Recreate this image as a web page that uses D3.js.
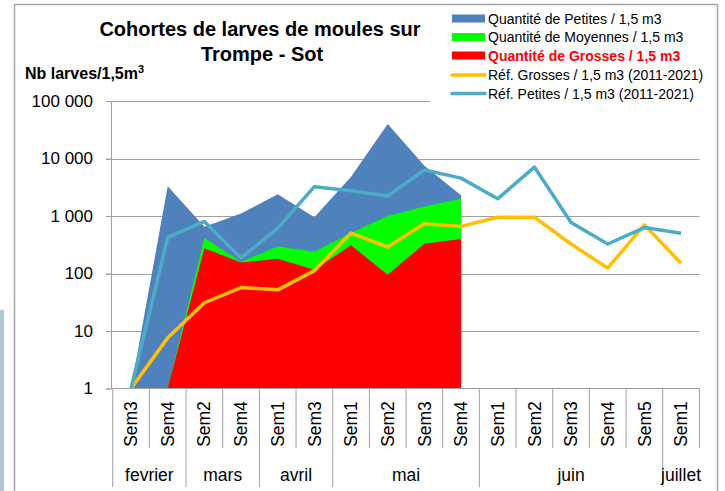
<!DOCTYPE html>
<html><head><meta charset="utf-8">
<script src="https://cdn.jsdelivr.net/npm/d3@7"></script>
<style>html,body{margin:0;padding:0;background:#fff;}svg{display:block;font-family:"Liberation Sans",Arial,sans-serif;}</style>
</head><body>
<script>
const categories = ["Sem3","Sem4","Sem2","Sem4","Sem1","Sem3","Sem1","Sem2","Sem3","Sem4","Sem1","Sem2","Sem3","Sem4","Sem5","Sem1"];
const monthNames = ["fevrier","mars","avril","mai","juin","juillet"];
const monthSpans = [2,2,2,4,5,1];
const petites   = [1, 3300, 650, 1100, 2400, 950, 4800, 40000, 7500, 2300];
const moyennes  = [null, 1, 415, 160, 295, 239, 505, 1000, 1460, 2000];
const grosses   = [null, 1, 276, 155, 181, 116, 309, 95, 329, 400];
const refGrosses = [1, 7.6, 31, 57, 52, 112, 505, 289, 732, 660, 950, 950, 326, 124, 700, 151];
const refPetites = [1, 424, 803, 186, 617, 3240, 2760, 2230, 6320, 4560, 1990, 7100, 770, 326, 630, 500];
const yTicks = [1, 10, 100, 1000, 10000, 100000];
const yTickLabels = ["1","10","100","1 000","10 000","100 000"];
const legendLabels = ["Quantité de Petites / 1,5 m3","Quantité de Moyennes / 1,5 m3","Quantité de Grosses / 1,5 m3","Réf. Grosses / 1,5 m3 (2011-2021)","Réf. Petites / 1,5 m3 (2011-2021)"];

const W = 725, H = 491;
const colors = {pet:"#4F81BD", moy:"#00FF00", gro:"#FF0000", rg:"#FFC000", rp:"#4BACC6"};
const svg = d3.select("body").append("svg").attr("width", W).attr("height", H);

// frame
svg.append("rect").attr("x",0).attr("y",310).attr("width",4).attr("height",181).attr("fill","#b3c7d3");
svg.append("line").attr("x1",14.5).attr("x2",14.5).attr("y1",4.5).attr("y2",H).attr("stroke","#a6a6a6").attr("stroke-width",1.5);
svg.append("line").attr("x1",717.5).attr("x2",717.5).attr("y1",4.5).attr("y2",H).attr("stroke","#a6a6a6").attr("stroke-width",1.5);
svg.append("line").attr("x1",14).attr("x2",718).attr("y1",4.5).attr("y2",4.5).attr("stroke","#a6a6a6").attr("stroke-width",1.5);

const x0 = 112.7, x1 = 699.4;
const x = d3.scaleBand().domain(d3.range(categories.length)).range([x0, x1]);
const y = d3.scaleLog().domain([1, 100000]).range([388.5, 101]);
const cx = i => x(i) + x.bandwidth()/2;

// gridlines
svg.append("g").selectAll("line").data(yTicks.slice(1)).join("line")
  .attr("x1", 106).attr("x2", x1).attr("y1", d => Math.round(y(d))+0.5).attr("y2", d => Math.round(y(d))+0.5)
  .attr("stroke","#a0a0a0").attr("stroke-width",1);

// areas
function areaGen(){ return d3.area().defined(d => d != null).x((d,i) => cx(i)).y0(y(1)).y1(d => y(d)); }
svg.append("path").datum(petites).attr("d", areaGen()).attr("fill", colors.pet);
svg.append("path").datum(moyennes).attr("d", areaGen()).attr("fill", colors.moy);
svg.append("path").datum(grosses).attr("d", areaGen()).attr("fill", colors.gro);

// lines
const lineGen = d3.line().x((d,i) => cx(i)).y(d => y(d));
svg.append("path").datum(refGrosses).attr("d", lineGen).attr("fill","none").attr("stroke", colors.rg).attr("stroke-width",3.5).attr("stroke-linejoin","round");
svg.append("path").datum(refPetites).attr("d", lineGen).attr("fill","none").attr("stroke", colors.rp).attr("stroke-width",3.5).attr("stroke-linejoin","round");

// y axis
const yAxis = d3.axisLeft(y).tickValues(yTicks).tickFormat((d,i) => yTickLabels[i]).tickSize(5).tickPadding(13);
const ga = svg.append("g").attr("transform", `translate(${x0 - 1.7},0)`).call(yAxis);
ga.select(".domain").attr("stroke","#a0a0a0");
ga.selectAll(".tick line").attr("stroke","#a0a0a0");
ga.selectAll(".tick text").attr("font-size",17).attr("fill","#000").attr("font-family","Liberation Sans, Arial, sans-serif");

// x axis line
svg.append("line").attr("x1", x0).attr("x2", x1).attr("y1", 388.5).attr("y2", 388.5).attr("stroke","#a0a0a0");
// category separators
const monthStarts = [0]; monthSpans.forEach((s,i) => monthStarts.push(monthStarts[i] + s));
const boundaries = d3.range(categories.length + 1);
svg.append("g").selectAll("line").data(boundaries).join("line")
  .attr("x1", i => (i < categories.length ? x(i) : x1)).attr("x2", i => (i < categories.length ? x(i) : x1))
  .attr("y1", 388.5).attr("y2", i => (monthStarts.includes(i) && i < categories.length ? 487 : 448))
  .attr("stroke","#a0a0a0").attr("stroke-width",1);
// category labels
svg.append("g").selectAll("text").data(categories).join("text")
  .attr("transform", (d,i) => `translate(${cx(i)},424) rotate(-90)`)
  .attr("text-anchor","middle").attr("dy","0.35em").attr("font-size",17.5).text(d => d);
// month labels
svg.append("g").selectAll("text").data(monthNames).join("text")
  .attr("x", (d,i) => {const a = x(monthStarts[i]); const b = monthStarts[i+1] < categories.length ? x(monthStarts[i+1]) : x1; return (a+b)/2;})
  .attr("y", 481).attr("text-anchor","middle").attr("font-size",17.5).text(d => d);

// legend background
svg.append("rect").attr("x",430).attr("y",6).attr("width",270).attr("height",98).attr("fill","#fff");
const legendY = [18.5, 37, 55.5, 75, 93.5];
const lg = svg.append("g");
[colors.pet, colors.moy, colors.gro].forEach((c,i) => {
  lg.append("rect").attr("x",452).attr("y",legendY[i]-4).attr("width",33).attr("height",8).attr("fill",c);
});
[colors.rg, colors.rp].forEach((c,i) => {
  lg.append("line").attr("x1",452).attr("x2",485).attr("y1",legendY[i+3]).attr("y2",legendY[i+3]).attr("stroke",c).attr("stroke-width",3.5).attr("stroke-linecap","round");
});
lg.selectAll("text").data(legendLabels).join("text")
  .attr("x",488).attr("y",(d,i) => legendY[i] + 5).attr("font-size",14)
  .attr("fill",(d,i) => i === 2 ? "#FF0000" : "#000").attr("font-weight",(d,i) => i === 2 ? "bold" : "normal")
  .text(d => d);

// titles
svg.append("text").attr("x",260).attr("y",36).attr("text-anchor","middle").attr("font-size",20).attr("font-weight","bold").text("Cohortes de larves de moules sur");
svg.append("text").attr("x",262).attr("y",61).attr("text-anchor","middle").attr("font-size",20).attr("font-weight","bold").text("Trompe - Sot");
const yl = svg.append("text").attr("x",25).attr("y",79).attr("font-size",16).attr("font-weight","bold");
yl.append("tspan").text("Nb larves/1,5m");
yl.append("tspan").attr("font-size",11).attr("dy",-6).text("3");
</script>
</body></html>
